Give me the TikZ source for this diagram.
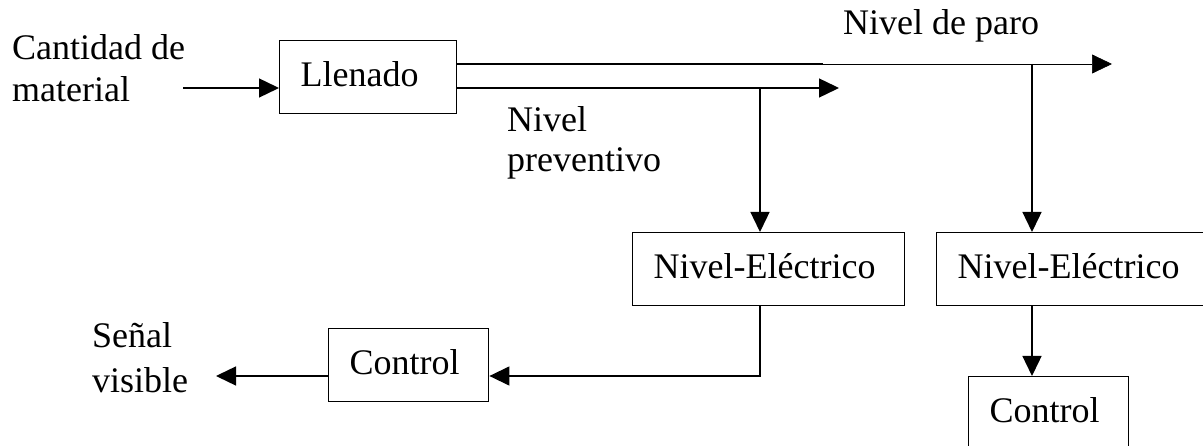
\documentclass[tikz,border=0pt]{standalone}
\usepackage{fontspec}
\setmainfont{Liberation Serif}
\usetikzlibrary{arrows.meta}
\begin{document}
\begin{tikzpicture}[x=1pt,y=-1pt,
  every node/.style={font=\fontsize{36}{45}\selectfont},
  box/.style={draw, line width=1.4pt, rectangle, inner xsep=21pt, inner ysep=0pt,
    text height=27pt, text depth=9pt, minimum height=73pt, align=left, anchor=north west},
  lbl/.style={inner sep=0pt, anchor=base west, align=left},
  conn/.style={line width=1.4pt, -{Triangle[length=20pt,width=19pt]}},
  thinconn/.style={line width=0.7pt, -{Triangle[length=20pt,width=19pt]}},
  wire/.style={line width=1.4pt},
]
\useasboundingbox (0,0) rectangle (1203,446);
\clip (0,0) rectangle (1203,446);

% boxes
\node[box, text width=135pt] (llen) at (279,40) {Llenado};
\node[box, text width=230pt] (ne1) at (632,232) {Nivel-Eléctrico};
\node[box, text width=230pt] (ne2) at (936,232) {Nivel-Eléctrico};
\node[box, text width=118pt] (ctl1) at (328,328) {Control};
\node[box, text width=118pt] (ctl2) at (968,376) {Control};

% labels (base anchor = baseline of the last line)
\node[lbl, font=\fontsize{36}{42}\selectfont] (lin) at (12,102) {Cantidad de\\material};
\node[lbl] (lparo) at (843,35) {Nivel de paro};
\node[lbl, font=\fontsize{36}{40}\selectfont] (lprev) at (507,172) {Nivel\\preventivo};
\node[lbl, font=\fontsize{36}{45}\selectfont] (lsen) at (92,392) {Señal\\visible};

% coordinates
\coordinate (in) at (183,88);
\coordinate (a1) at (823,64);
\coordinate (a2) at (1112,64);
\coordinate (b1) at (839,88);
\coordinate (v1) at (760,88);
\coordinate (v2) at (1032,64);
\coordinate (c1) at (760,376);
\coordinate (out) at (216,376);

% connectors
\draw[conn] (in) -- (in -| llen.west);
\draw[wire] (llen.east |- a1) -- (a1);
\draw[thinconn] (a1) -- (a2);
\draw[conn] (llen.east |- b1) -- (b1);
\draw[conn] (v1) -- (v1 |- ne1.north);
\draw[conn] (v2) -- (v2 |- ne2.north);
\draw[conn] (v2 |- ne2.south) -- (v2 |- ctl2.north);
\draw[conn] (v1 |- ne1.south) -- (c1) -- (c1 -| ctl1.east);
\draw[conn] (out -| ctl1.west) -- (out);
\end{tikzpicture}
\end{document}
